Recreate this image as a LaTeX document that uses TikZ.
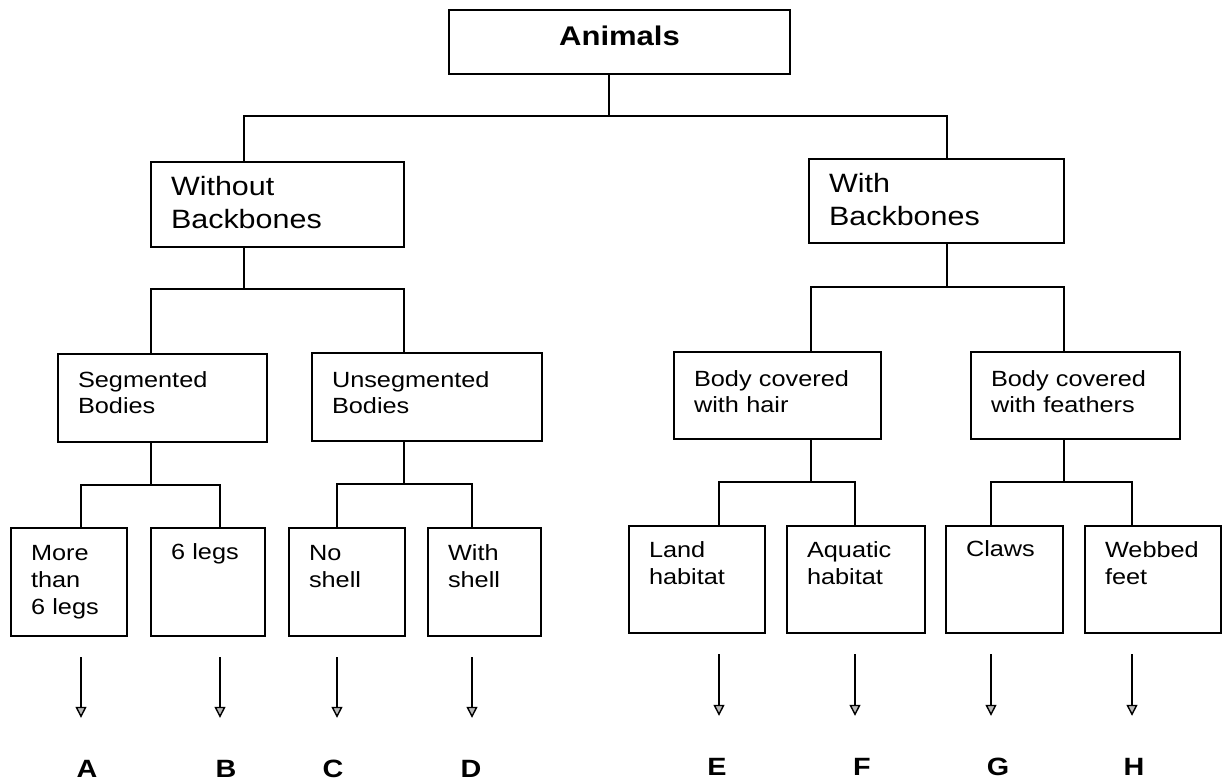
\documentclass[tikz,border=0pt]{standalone}
\usepackage{fontspec}
\setmainfont{Liberation Sans}[FakeStretch=1.15]
\usetikzlibrary{arrows.meta}
\begin{document}
\begin{tikzpicture}[x=1pt,y=-1pt,
  wire/.style={line width=1.8pt},
  frame/.style={draw, line width=1.8pt, inner xsep=20pt, inner ysep=0pt, outer sep=0pt,
                anchor=north west, align=left},
  rootbox/.style={frame, inner xsep=0pt, align=center, font=\bfseries\fontsize{27}{32}\selectfont},
  major/.style={frame, font=\fontsize{26.5}{33}\selectfont},
  minor/.style={frame, font=\fontsize{22}{26.5}\selectfont},
  leaf/.style={frame, font=\fontsize{22}{27}\selectfont},
  tag/.style={inner sep=0pt, anchor=base, text height=19pt, text depth=0pt,
              font=\bfseries\fontsize{25}{30}\selectfont},
  pointer/.style={line width=1.8pt,
                  -{Triangle[length=11pt, width=11pt, line width=1.4pt, fill=gray!55]},
                  shorten <=21pt, shorten >=40pt}
]
\useasboundingbox (0,0) rectangle (1223,783);

% classification boxes
\node[rootbox, text width=341pt, text height=36pt, text depth=28pt] (animals) at (449,10) {Animals};

\node[major, text width=213pt, text height=34pt, text depth=51pt] (wo) at (151,162) {Without\\Backbones};
\node[major, text width=215pt, text height=34pt, text depth=50pt] (w) at (809,159) {With\\Backbones};

\node[minor, text width=169pt, text height=33pt, text depth=55pt] (seg) at (58,354) {Segmented\\Bodies};
\node[minor, text width=190pt, text height=34pt, text depth=54pt] (unseg) at (312,353) {Unsegmented\\Bodies};
\node[minor, text width=167pt, text height=34pt, text depth=53pt] (hair) at (674,352) {Body covered\\with hair};
\node[minor, text width=169pt, text height=34pt, text depth=53pt] (feath) at (971,352) {Body covered\\with feathers};

\node[leaf, text width=76pt, text height=32pt, text depth=76pt] (l1) at (11,528) {More\\than\\6 legs};
\node[leaf, text width=74pt, text height=31pt, text depth=77pt] (l2) at (151,528) {6 legs};
\node[leaf, text width=76pt, text height=32pt, text depth=76pt] (l3) at (289,528) {No\\shell};
\node[leaf, text width=73pt, text height=32pt, text depth=76pt] (l4) at (428,528) {With\\shell};
\node[leaf, text width=96pt, text height=31pt, text depth=76pt] (l5) at (629,526) {Land\\habitat};
\node[leaf, text width=98pt, text height=31pt, text depth=76pt] (l6) at (787,526) {Aquatic\\habitat};
\node[leaf, text width=77pt, text height=30pt, text depth=77pt] (l7) at (946,526) {Claws};
\node[leaf, text width=96pt, text height=31pt, text depth=76pt] (l8) at (1085,526) {Webbed\\feet};

% result letters
\node[tag] (A) at (87,777) {A};
\node[tag] (B) at (226,777) {B};
\node[tag] (C) at (333,777) {C};
\node[tag] (D) at (471,777) {D};
\node[tag] (E) at (717,775) {E};
\node[tag] (F) at (862,775) {F};
\node[tag] (G) at (998,775) {G};
\node[tag] (H) at (1134,775) {H};

% x position where each box is joined to the tree
\coordinate (ax-animals) at (609,0);
\coordinate (ax-wo) at (244,0);
\coordinate (ax-w) at (947,0);
\coordinate (ax-seg) at (151,0);
\coordinate (ax-unseg) at (404,0);
\coordinate (ax-hair) at (811,0);
\coordinate (ax-feath) at (1064,0);
\coordinate (ax-l1) at (81,0);
\coordinate (ax-l2) at (220,0);
\coordinate (ax-l3) at (337,0);
\coordinate (ax-l4) at (472,0);
\coordinate (ax-l5) at (719,0);
\coordinate (ax-l6) at (855,0);
\coordinate (ax-l7) at (991,0);
\coordinate (ax-l8) at (1132,0);

% parent -> two children, joined by a horizontal bus at height \y
\foreach \p/\a/\b/\y in {animals/wo/w/116, wo/seg/unseg/289, w/hair/feath/287,
                         seg/l1/l2/485, unseg/l3/l4/484, hair/l5/l6/482, feath/l7/l8/482}{
  \coordinate (bus) at (0,\y);
  \draw[wire] (\p.south -| ax-\p) -- (ax-\p |- bus);
  \draw[wire] (\a.north -| ax-\a) -- (ax-\a |- bus) -- (ax-\b |- bus) -- (\b.north -| ax-\b);
}

% arrows down to the letters
\foreach \l/\t in {l1/A, l2/B, l3/C, l4/D, l5/E, l6/F, l7/G, l8/H}{
  \draw[pointer] (\l.south -| ax-\l) -- (\t.north -| ax-\l);
}
\end{tikzpicture}
\end{document}
